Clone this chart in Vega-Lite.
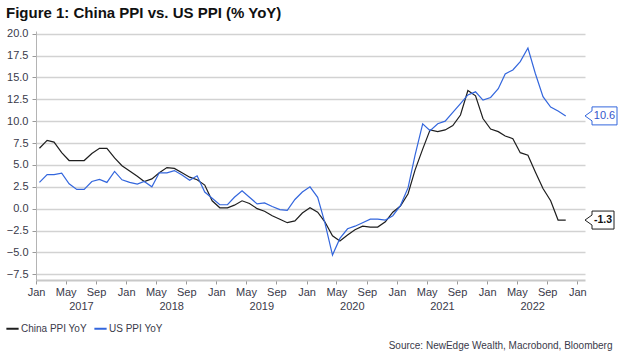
{
  "$schema": "https://vega.github.io/schema/vega-lite/v6.json",
  "width": 549,
  "height": 249,
  "autosize": {"type": "none"},
  "padding": {"left": 36, "top": 31, "right": 39, "bottom": 79},
  "background": "white",
  "title": {"text": "Figure 1: China PPI vs. US PPI (% YoY)", "anchor": "start", "frame": "group", "dx": -30, "dy": 19, "offset": 14, "baseline": "alphabetic", "font": "Liberation Sans", "fontSize": 15, "fontWeight": "bold", "color": "#111111"},
  "config": {"view": {"stroke": null}, "font": "Liberation Sans"},
  "datasets": {
    "ppi": [
      {"date": "2017-01-15", "series": "China PPI YoY", "value": 6.9},
      {"date": "2017-02-15", "series": "China PPI YoY", "value": 7.8},
      {"date": "2017-03-15", "series": "China PPI YoY", "value": 7.6},
      {"date": "2017-04-15", "series": "China PPI YoY", "value": 6.4},
      {"date": "2017-05-15", "series": "China PPI YoY", "value": 5.5},
      {"date": "2017-06-15", "series": "China PPI YoY", "value": 5.5},
      {"date": "2017-07-15", "series": "China PPI YoY", "value": 5.5},
      {"date": "2017-08-15", "series": "China PPI YoY", "value": 6.3},
      {"date": "2017-09-15", "series": "China PPI YoY", "value": 6.9},
      {"date": "2017-10-15", "series": "China PPI YoY", "value": 6.9},
      {"date": "2017-11-15", "series": "China PPI YoY", "value": 5.8},
      {"date": "2017-12-15", "series": "China PPI YoY", "value": 4.9},
      {"date": "2018-01-15", "series": "China PPI YoY", "value": 4.3},
      {"date": "2018-02-15", "series": "China PPI YoY", "value": 3.7},
      {"date": "2018-03-15", "series": "China PPI YoY", "value": 3.1},
      {"date": "2018-04-15", "series": "China PPI YoY", "value": 3.4},
      {"date": "2018-05-15", "series": "China PPI YoY", "value": 4.1},
      {"date": "2018-06-15", "series": "China PPI YoY", "value": 4.7},
      {"date": "2018-07-15", "series": "China PPI YoY", "value": 4.6},
      {"date": "2018-08-15", "series": "China PPI YoY", "value": 4.1},
      {"date": "2018-09-15", "series": "China PPI YoY", "value": 3.6},
      {"date": "2018-10-15", "series": "China PPI YoY", "value": 3.3},
      {"date": "2018-11-15", "series": "China PPI YoY", "value": 2.7},
      {"date": "2018-12-15", "series": "China PPI YoY", "value": 0.9},
      {"date": "2019-01-15", "series": "China PPI YoY", "value": 0.1},
      {"date": "2019-02-15", "series": "China PPI YoY", "value": 0.1},
      {"date": "2019-03-15", "series": "China PPI YoY", "value": 0.4},
      {"date": "2019-04-15", "series": "China PPI YoY", "value": 0.9},
      {"date": "2019-05-15", "series": "China PPI YoY", "value": 0.6},
      {"date": "2019-06-15", "series": "China PPI YoY", "value": 0.0},
      {"date": "2019-07-15", "series": "China PPI YoY", "value": -0.3},
      {"date": "2019-08-15", "series": "China PPI YoY", "value": -0.8},
      {"date": "2019-09-15", "series": "China PPI YoY", "value": -1.2},
      {"date": "2019-10-15", "series": "China PPI YoY", "value": -1.6},
      {"date": "2019-11-15", "series": "China PPI YoY", "value": -1.4},
      {"date": "2019-12-15", "series": "China PPI YoY", "value": -0.5},
      {"date": "2020-01-15", "series": "China PPI YoY", "value": 0.1},
      {"date": "2020-02-15", "series": "China PPI YoY", "value": -0.4},
      {"date": "2020-03-15", "series": "China PPI YoY", "value": -1.5},
      {"date": "2020-04-15", "series": "China PPI YoY", "value": -3.1},
      {"date": "2020-05-15", "series": "China PPI YoY", "value": -3.7},
      {"date": "2020-06-15", "series": "China PPI YoY", "value": -3.0},
      {"date": "2020-07-15", "series": "China PPI YoY", "value": -2.4},
      {"date": "2020-08-15", "series": "China PPI YoY", "value": -2.0},
      {"date": "2020-09-15", "series": "China PPI YoY", "value": -2.1},
      {"date": "2020-10-15", "series": "China PPI YoY", "value": -2.1},
      {"date": "2020-11-15", "series": "China PPI YoY", "value": -1.5},
      {"date": "2020-12-15", "series": "China PPI YoY", "value": -0.4},
      {"date": "2021-01-15", "series": "China PPI YoY", "value": 0.3},
      {"date": "2021-02-15", "series": "China PPI YoY", "value": 1.7},
      {"date": "2021-03-15", "series": "China PPI YoY", "value": 4.4},
      {"date": "2021-04-15", "series": "China PPI YoY", "value": 6.8},
      {"date": "2021-05-15", "series": "China PPI YoY", "value": 9.0},
      {"date": "2021-06-15", "series": "China PPI YoY", "value": 8.8},
      {"date": "2021-07-15", "series": "China PPI YoY", "value": 9.0},
      {"date": "2021-08-15", "series": "China PPI YoY", "value": 9.5},
      {"date": "2021-09-15", "series": "China PPI YoY", "value": 10.7},
      {"date": "2021-10-15", "series": "China PPI YoY", "value": 13.5},
      {"date": "2021-11-15", "series": "China PPI YoY", "value": 12.9},
      {"date": "2021-12-15", "series": "China PPI YoY", "value": 10.3},
      {"date": "2022-01-15", "series": "China PPI YoY", "value": 9.1},
      {"date": "2022-02-15", "series": "China PPI YoY", "value": 8.8},
      {"date": "2022-03-15", "series": "China PPI YoY", "value": 8.3},
      {"date": "2022-04-15", "series": "China PPI YoY", "value": 8.0},
      {"date": "2022-05-15", "series": "China PPI YoY", "value": 6.4},
      {"date": "2022-06-15", "series": "China PPI YoY", "value": 6.1},
      {"date": "2022-07-15", "series": "China PPI YoY", "value": 4.2},
      {"date": "2022-08-15", "series": "China PPI YoY", "value": 2.3},
      {"date": "2022-09-15", "series": "China PPI YoY", "value": 0.9},
      {"date": "2022-10-15", "series": "China PPI YoY", "value": -1.3},
      {"date": "2022-11-15", "series": "China PPI YoY", "value": -1.3},
      {"date": "2017-01-15", "series": "US PPI YoY", "value": 3.0},
      {"date": "2017-02-15", "series": "US PPI YoY", "value": 3.9},
      {"date": "2017-03-15", "series": "US PPI YoY", "value": 3.9},
      {"date": "2017-04-15", "series": "US PPI YoY", "value": 4.05},
      {"date": "2017-05-15", "series": "US PPI YoY", "value": 2.85},
      {"date": "2017-06-15", "series": "US PPI YoY", "value": 2.2},
      {"date": "2017-07-15", "series": "US PPI YoY", "value": 2.2},
      {"date": "2017-08-15", "series": "US PPI YoY", "value": 3.1},
      {"date": "2017-09-15", "series": "US PPI YoY", "value": 3.35},
      {"date": "2017-10-15", "series": "US PPI YoY", "value": 3.0},
      {"date": "2017-11-15", "series": "US PPI YoY", "value": 4.25},
      {"date": "2017-12-15", "series": "US PPI YoY", "value": 3.3},
      {"date": "2018-01-15", "series": "US PPI YoY", "value": 3.0},
      {"date": "2018-02-15", "series": "US PPI YoY", "value": 2.8},
      {"date": "2018-03-15", "series": "US PPI YoY", "value": 3.1},
      {"date": "2018-04-15", "series": "US PPI YoY", "value": 2.5},
      {"date": "2018-05-15", "series": "US PPI YoY", "value": 4.1},
      {"date": "2018-06-15", "series": "US PPI YoY", "value": 4.1},
      {"date": "2018-07-15", "series": "US PPI YoY", "value": 4.35},
      {"date": "2018-08-15", "series": "US PPI YoY", "value": 3.85},
      {"date": "2018-09-15", "series": "US PPI YoY", "value": 3.25},
      {"date": "2018-10-15", "series": "US PPI YoY", "value": 3.75},
      {"date": "2018-11-15", "series": "US PPI YoY", "value": 1.9},
      {"date": "2018-12-15", "series": "US PPI YoY", "value": 1.2},
      {"date": "2019-01-15", "series": "US PPI YoY", "value": 0.45},
      {"date": "2019-02-15", "series": "US PPI YoY", "value": 0.45},
      {"date": "2019-03-15", "series": "US PPI YoY", "value": 1.3},
      {"date": "2019-04-15", "series": "US PPI YoY", "value": 2.05},
      {"date": "2019-05-15", "series": "US PPI YoY", "value": 1.3},
      {"date": "2019-06-15", "series": "US PPI YoY", "value": 0.55},
      {"date": "2019-07-15", "series": "US PPI YoY", "value": 0.65},
      {"date": "2019-08-15", "series": "US PPI YoY", "value": 0.25},
      {"date": "2019-09-15", "series": "US PPI YoY", "value": -0.1},
      {"date": "2019-10-15", "series": "US PPI YoY", "value": -0.2},
      {"date": "2019-11-15", "series": "US PPI YoY", "value": 1.05},
      {"date": "2019-12-15", "series": "US PPI YoY", "value": 1.9},
      {"date": "2020-01-15", "series": "US PPI YoY", "value": 2.5},
      {"date": "2020-02-15", "series": "US PPI YoY", "value": 1.3},
      {"date": "2020-03-15", "series": "US PPI YoY", "value": -1.6},
      {"date": "2020-04-15", "series": "US PPI YoY", "value": -5.3},
      {"date": "2020-05-15", "series": "US PPI YoY", "value": -3.4},
      {"date": "2020-06-15", "series": "US PPI YoY", "value": -2.3},
      {"date": "2020-07-15", "series": "US PPI YoY", "value": -2.0},
      {"date": "2020-08-15", "series": "US PPI YoY", "value": -1.6},
      {"date": "2020-09-15", "series": "US PPI YoY", "value": -1.2},
      {"date": "2020-10-15", "series": "US PPI YoY", "value": -1.2},
      {"date": "2020-11-15", "series": "US PPI YoY", "value": -1.3},
      {"date": "2020-12-15", "series": "US PPI YoY", "value": -0.8},
      {"date": "2021-01-15", "series": "US PPI YoY", "value": 0.35},
      {"date": "2021-02-15", "series": "US PPI YoY", "value": 2.4},
      {"date": "2021-03-15", "series": "US PPI YoY", "value": 6.1},
      {"date": "2021-04-15", "series": "US PPI YoY", "value": 9.7},
      {"date": "2021-05-15", "series": "US PPI YoY", "value": 8.9},
      {"date": "2021-06-15", "series": "US PPI YoY", "value": 9.7},
      {"date": "2021-07-15", "series": "US PPI YoY", "value": 10.0},
      {"date": "2021-08-15", "series": "US PPI YoY", "value": 11.0},
      {"date": "2021-09-15", "series": "US PPI YoY", "value": 12.0},
      {"date": "2021-10-15", "series": "US PPI YoY", "value": 13.0},
      {"date": "2021-11-15", "series": "US PPI YoY", "value": 13.35},
      {"date": "2021-12-15", "series": "US PPI YoY", "value": 12.4},
      {"date": "2022-01-15", "series": "US PPI YoY", "value": 12.7},
      {"date": "2022-02-15", "series": "US PPI YoY", "value": 13.7},
      {"date": "2022-03-15", "series": "US PPI YoY", "value": 15.4},
      {"date": "2022-04-15", "series": "US PPI YoY", "value": 15.85},
      {"date": "2022-05-15", "series": "US PPI YoY", "value": 16.8},
      {"date": "2022-06-15", "series": "US PPI YoY", "value": 18.35},
      {"date": "2022-07-15", "series": "US PPI YoY", "value": 15.45},
      {"date": "2022-08-15", "series": "US PPI YoY", "value": 12.8},
      {"date": "2022-09-15", "series": "US PPI YoY", "value": 11.6},
      {"date": "2022-10-15", "series": "US PPI YoY", "value": 11.15},
      {"date": "2022-11-15", "series": "US PPI YoY", "value": 10.6}
    ],
    "callouts": [
      {"date": "2023-02-01", "key": "US", "value": 10.6, "label": "10.6"},
      {"date": "2023-02-01", "key": "CN", "value": -1.3, "label": "-1.3"}
    ]
  },
  "layer": [
    {
      "data": {"name": "ppi"},
      "mark": {"type": "line", "strokeWidth": 1.2},
      "encoding": {
        "x": {
          "field": "date", "type": "temporal",
          "scale": {"type": "utc", "domain": [{"year": 2017, "month": 1, "date": 1, "utc": true}, {"year": 2023, "month": 2, "date": 1, "utc": true}]},
          "axis": {
            "orient": "bottom", "title": null, "grid": false,
            "values": [
              {"year": 2017, "month": 1, "date": 1, "utc": true}, {"year": 2017, "month": 5, "date": 1, "utc": true}, {"year": 2017, "month": 9, "date": 1, "utc": true},
              {"year": 2018, "month": 1, "date": 1, "utc": true}, {"year": 2018, "month": 5, "date": 1, "utc": true}, {"year": 2018, "month": 9, "date": 1, "utc": true},
              {"year": 2019, "month": 1, "date": 1, "utc": true}, {"year": 2019, "month": 5, "date": 1, "utc": true}, {"year": 2019, "month": 9, "date": 1, "utc": true},
              {"year": 2020, "month": 1, "date": 1, "utc": true}, {"year": 2020, "month": 5, "date": 1, "utc": true}, {"year": 2020, "month": 9, "date": 1, "utc": true},
              {"year": 2021, "month": 1, "date": 1, "utc": true}, {"year": 2021, "month": 5, "date": 1, "utc": true}, {"year": 2021, "month": 9, "date": 1, "utc": true},
              {"year": 2022, "month": 1, "date": 1, "utc": true}, {"year": 2022, "month": 5, "date": 1, "utc": true}, {"year": 2022, "month": 9, "date": 1, "utc": true},
              {"year": 2023, "month": 1, "date": 1, "utc": true}
            ],
            "format": "%b",
            "labelFont": "Liberation Sans", "labelFontSize": 11, "labelColor": "#3a3a4a",
            "labelPadding": 2, "labelFlush": false, "labelOverlap": false,
            "tickSize": 4, "tickColor": "#9a9a9a", "tickWidth": 1,
            "domainColor": "#c8c8c8", "domainWidth": 2
          }
        },
        "y": {
          "field": "value", "type": "quantitative",
          "scale": {"domain": [-8.15, 20.3], "nice": false, "zero": false},
          "axis": {
            "title": null,
            "values": [-7.5, -5, -2.5, 0, 2.5, 5, 7.5, 10, 12.5, 15, 17.5, 20],
            "tickCount": 20,
            "format": ".1f",
            "labelFont": "Liberation Sans", "labelFontSize": 11, "labelColor": "#3a3a4a",
            "labelPadding": 4, "labelOverlap": false, "labelFlush": false,
            "tickSize": 4, "tickColor": "#9a9a9a",
            "domainColor": "#b4b4b4", "domainWidth": 1,
            "grid": true, "gridColor": "#d2d2d2", "gridWidth": 1.5
          }
        },
        "color": {
          "field": "series", "type": "nominal",
          "scale": {"domain": ["China PPI YoY", "US PPI YoY"], "range": ["#1e1e1e", "#3366dd"]},
          "legend": {
            "orient": "none", "legendX": -31, "legendY": 290, "direction": "horizontal",
            "title": null, "symbolType": "stroke", "symbolSize": 150, "symbolStrokeWidth": 2,
            "labelFont": "Liberation Sans", "labelFontSize": 10, "labelColor": "#3a3a4a",
            "labelOffset": 1, "columnPadding": 3, "padding": 0
          }
        }
      }
    },
    {
      "data": {"name": "callouts"},
      "transform": [{"filter": "datum.key == 'US'"}],
      "mark": {"type": "point", "filled": false, "fill": "white", "fillOpacity": 1, "stroke": "#3366dd", "size": 4, "strokeWidth": 1, "opacity": 1, "shape": "M0,0L7,-5L7,-9L32,-9L32,9L7,9L7,5Z"},
      "encoding": {
        "x": {
          "field": "date", "type": "temporal",
          "scale": {"type": "utc", "domain": [{"year": 2017, "month": 1, "date": 1, "utc": true}, {"year": 2023, "month": 2, "date": 1, "utc": true}]},
          "axis": {
            "orient": "bottom", "grid": false, "ticks": false, "domain": false,
            "values": [
              {"year": 2017, "month": 7, "date": 2, "utc": true}, {"year": 2018, "month": 7, "date": 2, "utc": true},
              {"year": 2019, "month": 7, "date": 2, "utc": true}, {"year": 2020, "month": 7, "date": 2, "utc": true},
              {"year": 2021, "month": 7, "date": 2, "utc": true}, {"year": 2022, "month": 7, "date": 2, "utc": true}
            ],
            "format": "%Y",
            "labelFont": "Liberation Sans", "labelFontSize": 11, "labelColor": "#3a3a4a",
            "labelPadding": 20, "labelFlush": false, "labelOverlap": false,
            "title": "Source: NewEdge Wealth, Macrobond, Bloomberg",
            "titleFont": "Liberation Sans", "titleFontSize": 10, "titleFontWeight": "normal", "titleColor": "#3a3a4a",
            "titleAnchor": "end", "titleAlign": "right", "titleBaseline": "middle",
            "titleX": 576, "titleY": 65
          }
        },
        "y": {"field": "value", "type": "quantitative", "scale": {"domain": [-8.15, 20.3], "nice": false, "zero": false}}
      }
    },
    {
      "data": {"name": "callouts"},
      "transform": [{"filter": "datum.key == 'CN'"}],
      "mark": {"type": "point", "filled": false, "fill": "white", "fillOpacity": 1, "stroke": "#1e1e1e", "size": 4, "strokeWidth": 1, "opacity": 1, "shape": "M0,0L7,-5L7,-9L29,-9L29,9L7,9L7,5Z"},
      "encoding": {
        "x": {"field": "date", "type": "temporal", "scale": {"type": "utc", "domain": [{"year": 2017, "month": 1, "date": 1, "utc": true}, {"year": 2023, "month": 2, "date": 1, "utc": true}]}, "axis": null},
        "y": {"field": "value", "type": "quantitative", "scale": {"domain": [-8.15, 20.3], "nice": false, "zero": false}}
      }
    },
    {
      "data": {"name": "callouts"},
      "transform": [{"filter": "datum.key == 'US'"}],
      "mark": {"type": "text", "dx": 19.5, "align": "center", "baseline": "middle", "font": "Liberation Sans Narrow, Liberation Sans", "fontSize": 11, "color": "#3355cc"},
      "encoding": {
        "x": {"field": "date", "type": "temporal", "scale": {"type": "utc", "domain": [{"year": 2017, "month": 1, "date": 1, "utc": true}, {"year": 2023, "month": 2, "date": 1, "utc": true}]}, "axis": null},
        "y": {"field": "value", "type": "quantitative", "scale": {"domain": [-8.15, 20.3], "nice": false, "zero": false}},
        "text": {"field": "label"}
      }
    },
    {
      "data": {"name": "callouts"},
      "transform": [{"filter": "datum.key == 'CN'"}],
      "mark": {"type": "text", "dx": 18, "align": "center", "baseline": "middle", "font": "Liberation Sans Narrow, Liberation Sans", "fontSize": 10.5, "fontWeight": "bold", "color": "#111111"},
      "encoding": {
        "x": {"field": "date", "type": "temporal", "scale": {"type": "utc", "domain": [{"year": 2017, "month": 1, "date": 1, "utc": true}, {"year": 2023, "month": 2, "date": 1, "utc": true}]}, "axis": null},
        "y": {"field": "value", "type": "quantitative", "scale": {"domain": [-8.15, 20.3], "nice": false, "zero": false}},
        "text": {"field": "label"}
      }
    }
  ],
  "resolve": {"axis": {"x": "independent"}}
}
